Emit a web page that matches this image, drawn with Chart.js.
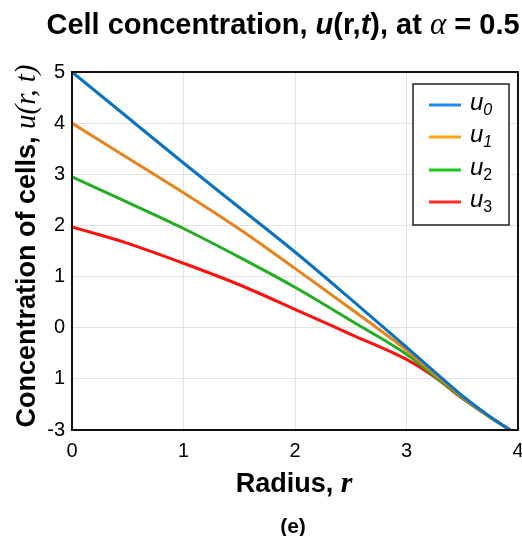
<!DOCTYPE html>
<html>
<head>
<meta charset="utf-8">
<script src="https://cdn.jsdelivr.net/npm/chart.js@4/dist/chart.umd.min.js"></script>
<style>
  body { margin: 0; background: #fff; }
  #wrap { width: 522px; height: 536px; }
</style>
</head>
<body>
<div id="wrap"><canvas id="cellChart" width="522" height="536"></canvas></div>
<script>
// radius samples and the four concentration profiles
const radius = [0, 0.5, 1, 1.5, 2, 2.5, 3, 3.25, 3.5, 3.75, 3.93];
const u0 = [5, 4.11, 3.22, 2.35, 1.48, 0.56, -0.38, -0.86, -1.33, -1.74, -2];
const u1 = [4, 3.32, 2.64, 1.93, 1.16, 0.37, -0.44, -0.9, -1.35, -1.75, -2];
const u2 = [2.95, 2.45, 1.94, 1.38, 0.79, 0.14, -0.52, -0.94, -1.37, -1.75, -2];
const u3 = [1.97, 1.65, 1.26, 0.84, 0.36, -0.13, -0.62, -0.96, -1.38, -1.75, -2];

const seriesNames = ["0", "1", "2", "3"];
const lineColors = ["#0a72c2", "#e8821c", "#22ad22", "#ff1010"];
const keyColors = ["#1e88ff", "#ffa514", "#18c818", "#ff2a2a"];

const xTicks = [0, 1, 2, 3, 4];
const yTickValues = [-2, -1, 0, 1, 2, 3, 4, 5];
const yTickText = ["-3", "1", "0", "1", "2", "3", "4", "5"];

const SANS = '"Liberation Sans", Arial, sans-serif';
const SERIF = '"Liberation Serif", "Times New Roman", serif';

function toPoints(ys) {
    return radius.map((r, i) => ({ x: r, y: ys[i] }));
}

// draws a run of differently styled text pieces on one baseline
function drawRich(ctx, parts, x, y, align) {
    let total = 0;
    parts.forEach(p => {
        ctx.font = p.font;
        p.w = ctx.measureText(p.text).width;
        total += p.w;
    });
    let cx = align === "center" ? x - total / 2 : x;
    ctx.textAlign = "left";
    ctx.textBaseline = "alphabetic";
    parts.forEach(p => {
        ctx.font = p.font;
        ctx.fillText(p.text, cx, y + (p.dy || 0));
        cx += p.w;
    });
}

const decorations = {
    id: "decorations",
    afterDraw(chart) {
        const ctx = chart.ctx;
        const area = chart.chartArea;
        ctx.save();
        ctx.fillStyle = "#000";

        // frame around the plot
        ctx.strokeStyle = "#111";
        ctx.lineWidth = 2;
        ctx.strokeRect(area.left, area.top, area.right - area.left, area.bottom - area.top);

        // title
        drawRich(ctx, [
            { text: "Cell concentration, ", font: "bold 29px " + SANS },
            { text: "u", font: "italic bold 29px " + SANS },
            { text: "(r,", font: "bold 29px " + SANS },
            { text: "t", font: "italic bold 29px " + SANS },
            { text: "), at ", font: "bold 29px " + SANS },
            { text: "\u03b1", font: "italic 31px " + SERIF },
            { text: " = 0.5", font: "bold 29px " + SANS }
        ], 283, 34, "center");

        // x axis title and panel tag
        drawRich(ctx, [
            { text: "Radius, ", font: "bold 27px " + SANS },
            { text: "r", font: "italic bold 30px " + SERIF }
        ], 294, 492, "center");
        drawRich(ctx, [{ text: "(e)", font: "bold 21px " + SANS }], 293, 533, "center");

        // y axis title, rotated
        ctx.save();
        ctx.translate(35, 246);
        ctx.rotate(-Math.PI / 2);
        drawRich(ctx, [
            { text: "Concentration of cells, ", font: "bold 27px " + SANS },
            { text: "u(r, t)", font: "italic 29px " + SERIF }
        ], 0, 0, "center");
        ctx.restore();

        // key box in the upper right of the plot
        ctx.fillStyle = "#fff";
        ctx.fillRect(413, 84, 96, 141);
        ctx.strokeStyle = "#222";
        ctx.lineWidth = 1.5;
        ctx.strokeRect(413, 84, 96, 141);
        const rows = [105, 137, 170, 202];
        rows.forEach((ry, i) => {
            ctx.strokeStyle = keyColors[i];
            ctx.lineWidth = 3;
            ctx.beginPath();
            ctx.moveTo(429, ry);
            ctx.lineTo(461, ry);
            ctx.stroke();
            ctx.fillStyle = "#000";
            drawRich(ctx, [
                { text: "u", font: "italic 24px " + SANS },
                { text: seriesNames[i], font: (i < 2 ? "italic " : "") + "16px " + SANS, dy: 5 }
            ], 470, ry + 5, "left");
        });
        ctx.restore();
    }
};

const datasets = [u0, u1, u2, u3].map((ys, i) => ({
    label: "u" + seriesNames[i],
    data: toPoints(ys),
    borderColor: lineColors[i],
    borderWidth: 3,
    pointRadius: 0,
    fill: false,
    cubicInterpolationMode: "monotone"
}));

new Chart(document.getElementById("cellChart").getContext("2d"), {
    type: "line",
    data: { datasets: datasets },
    options: {
        responsive: false,
        animation: false,
        layout: { padding: { top: 72, right: 4, left: 0, bottom: 0 } },
        plugins: {
            legend: { display: false },
            title: { display: false },
            tooltip: { enabled: false }
        },
        scales: {
            x: {
                type: "linear",
                min: 0,
                max: 4,
                afterBuildTicks: scale => { scale.ticks = xTicks.map(v => ({ value: v })); },
                afterFit: scale => {
                    scale.height = 106;
                    scale.paddingLeft = 0;
                    scale.paddingRight = 0;
                },
                grid: { color: "#e2e2e2", drawTicks: false },
                border: { display: false },
                ticks: {
                    padding: 9,
                    color: "#000",
                    font: { family: SANS, size: 20 }
                }
            },
            y: {
                type: "linear",
                min: -2,
                max: 5,
                afterBuildTicks: scale => { scale.ticks = yTickValues.map(v => ({ value: v })); },
                afterFit: scale => {
                    scale.width = 72;
                    scale.paddingTop = 0;
                    scale.paddingBottom = 0;
                },
                grid: { color: "#e2e2e2", drawTicks: false },
                border: { display: false },
                ticks: {
                    padding: 7,
                    color: "#000",
                    font: { family: SANS, size: 20 },
                    callback: (value) => yTickText[yTickValues.indexOf(value)]
                }
            }
        }
    },
    plugins: [decorations]
});
</script>
</body>
</html>
